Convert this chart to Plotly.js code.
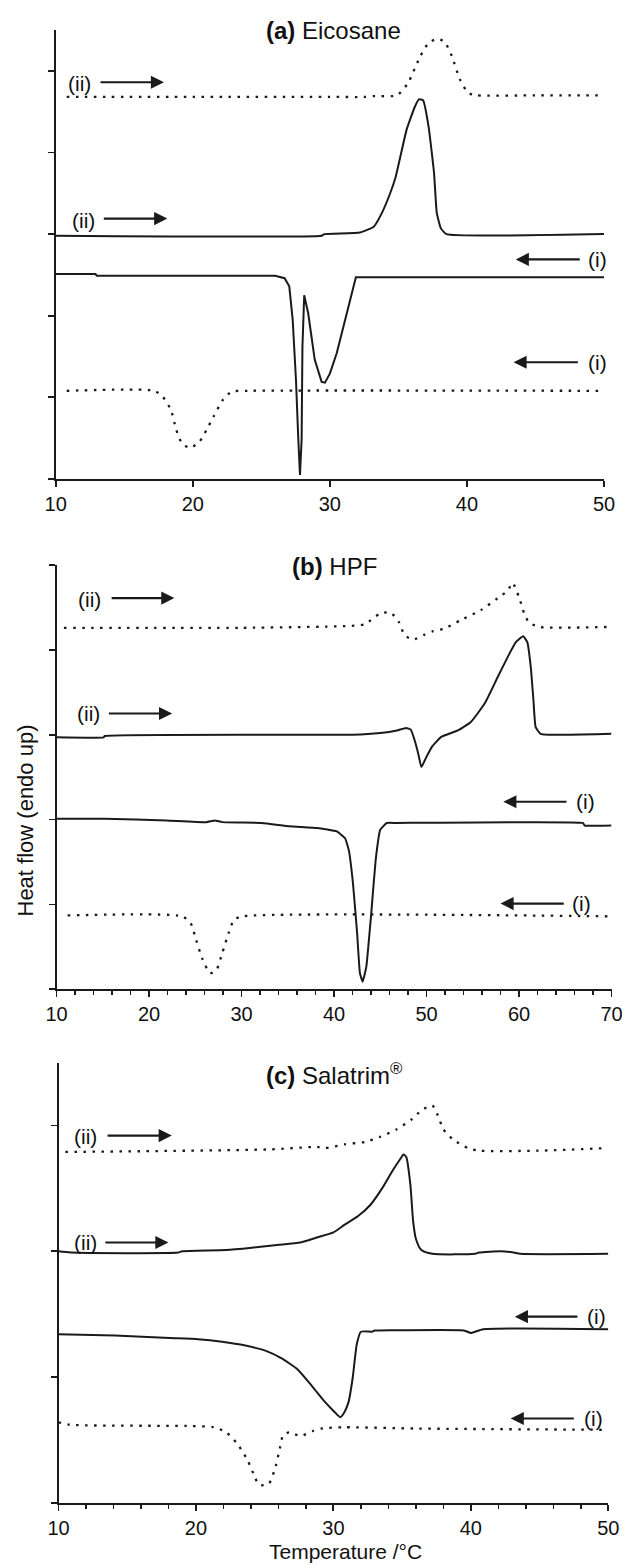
<!DOCTYPE html>
<html>
<head>
<meta charset="utf-8">
<script src="https://cdn.plot.ly/plotly-3.0.1.min.js"></script>
<style>
  html, body { margin: 0; padding: 0; background: #fff; }
  #chart { width: 622px; height: 1565px; }
</style>
</head>
<body>
<div id="chart"></div>
<script>
// ---- (a) Eicosane ----
const aTicks = [10, 20, 30, 40, 50];
const aHeatDotX = [10.8, 20, 30, 32.6, 33.2, 34.9, 35.7, 36.6, 37.2, 37.8, 38.35, 38.9, 39.5, 40.1, 40.7, 45, 50];
const aHeatDotY = [4.68, 4.68, 4.68, 4.68, 4.69, 4.70, 4.85, 5.18, 5.34, 5.39, 5.36, 5.18, 4.89, 4.73, 4.70, 4.70, 4.70];
const aHeatX = [10, 29.4, 29.6, 32.2, 33.2, 33.8, 34.4, 34.8, 35.6, 36.2, 36.5, 36.8, 37.2, 37.6, 37.8, 38.1, 38.5, 50];
const aHeatY = [2.98, 2.98, 3.0, 3.02, 3.09, 3.26, 3.50, 3.70, 4.28, 4.56, 4.65, 4.64, 4.32, 3.75, 3.26, 3.07, 3.0, 3.0];
const aCoolX = [10, 12.9, 13.0, 26.0, 26.7, 27.04, 27.29, 27.53, 27.7, 27.82, 27.94, 28.0, 28.13, 28.42, 28.9, 29.4, 29.64, 30.0, 30.5, 31.1, 31.6, 31.9, 50];
const aCoolY = [2.51, 2.51, 2.49, 2.49, 2.46, 2.36, 1.95, 1.21, 0.48, 0.05, 0.48, 1.62, 2.25, 2.03, 1.46, 1.19, 1.18, 1.29, 1.54, 1.95, 2.28, 2.47, 2.47];
const aCoolDotX = [10.8, 17.2, 17.8, 18.4, 18.8, 19.2, 19.8, 20.5, 21.0, 21.5, 22.2, 22.84, 24, 50];
const aCoolDotY = [1.08, 1.08, 1.01, 0.85, 0.60, 0.44, 0.38, 0.46, 0.60, 0.76, 0.97, 1.07, 1.08, 1.08];

// ---- (b) HPF ----
const bTicks = [10, 20, 30, 40, 50, 60, 70];
const bHeatDotX = [10.8, 30, 41.2, 43.3, 45.0, 46.1, 47.0, 47.6, 48.5, 49.8, 50.7, 51.9, 53.7, 55.9, 57.7, 58.8, 59.3, 60.0, 60.56, 61.1, 62.3, 69.7];
const bHeatDotY = [4.26, 4.26, 4.28, 4.30, 4.43, 4.44, 4.33, 4.18, 4.12, 4.18, 4.22, 4.25, 4.35, 4.47, 4.61, 4.70, 4.79, 4.62, 4.43, 4.32, 4.27, 4.27];
const bHeatX = [10, 15.1, 15.2, 35, 42, 45, 46.8, 47.8, 48.3, 48.7, 49.1, 49.45, 50.0, 50.6, 51.6, 53.4, 54.8, 56.3, 57.7, 58.8, 59.66, 60.45, 60.9, 61.27, 61.56, 61.8, 62.35, 70];
const bHeatY = [2.97, 2.97, 2.985, 3.0, 3.0, 3.02, 3.05, 3.08, 3.06, 2.94, 2.78, 2.62, 2.74, 2.86, 2.975, 3.05, 3.15, 3.37, 3.68, 3.92, 4.09, 4.16, 4.09, 3.80, 3.41, 3.09, 3.01, 3.01];
const bCoolX = [10, 15.2, 21.9, 26.2, 27.1, 27.9, 32.2, 35.2, 38.2, 40.3, 41.2, 41.6, 42.05, 42.5, 42.8, 43.1, 43.5, 44.0, 44.5, 45.0, 45.7, 46.8, 66.9, 67.1, 70];
const bCoolY = [2.01, 2.01, 1.99, 1.97, 1.99, 1.97, 1.96, 1.92, 1.90, 1.86, 1.78, 1.64, 1.25, 0.66, 0.19, 0.09, 0.27, 0.86, 1.52, 1.88, 1.96, 1.96, 1.96, 1.93, 1.93];
const bCoolDotX = [11.2, 23.6, 24.5, 25.1, 25.8, 26.6, 27.3, 27.9, 28.6, 29.2, 30.1, 70];
const bCoolDotY = [0.87, 0.86, 0.78, 0.58, 0.35, 0.19, 0.23, 0.42, 0.66, 0.82, 0.86, 0.86];

// ---- (c) Salatrim ----
const cTicks = [10, 20, 30, 40, 50];
const cHeatDotX = [10.5, 25.3, 28.8, 29.4, 30.8, 32.3, 33.4, 34.6, 35.7, 36.4, 37.2, 37.6, 38.0, 38.7, 39.8, 40.6, 44.9, 49.7];
const cHeatDotY = [2.79, 2.81, 2.83, 2.82, 2.85, 2.87, 2.91, 2.97, 3.05, 3.12, 3.16, 3.08, 2.97, 2.89, 2.82, 2.80, 2.80, 2.82];
const cHeatX = [10, 10.9, 18.7, 19.0, 22.2, 24.2, 25.9, 27.6, 28.8, 30.0, 30.8, 31.8, 32.7, 33.6, 34.3, 34.9, 35.1, 35.3, 35.6, 35.8, 36.0, 36.4, 37.2, 40.3, 40.6, 42.2, 43.1, 43.6, 50];
const cHeatY = [2.00, 1.99, 1.99, 2.00, 2.01, 2.03, 2.05, 2.07, 2.11, 2.15, 2.21, 2.28, 2.37, 2.51, 2.64, 2.74, 2.77, 2.75, 2.53, 2.24, 2.10, 2.01, 1.98, 1.98, 1.99, 2.00, 1.99, 1.98, 1.98];
const cCoolX = [10, 14.1, 18.1, 20.15, 21.9, 23.6, 25.05, 26.2, 27.4, 28.5, 29.4, 30.1, 30.5, 30.8, 31.1, 31.4, 31.7, 32.0, 32.8, 33.0, 33.4, 39.5, 40.0, 40.9, 50];
const cCoolY = [1.34, 1.33, 1.31, 1.30, 1.28, 1.25, 1.21, 1.15, 1.06, 0.92, 0.80, 0.72, 0.68, 0.72, 0.80, 0.99, 1.26, 1.36, 1.36, 1.37, 1.37, 1.37, 1.35, 1.38, 1.38];
const cCoolDotX = [10.0, 10.8, 19.6, 21.3, 22.2, 23.0, 23.75, 24.3, 24.6, 25.3, 25.8, 26.1, 26.35, 26.8, 27.6, 28.5, 29.1, 30.8, 36.0, 49.7];
const cCoolDotY = [0.64, 0.62, 0.61, 0.60, 0.56, 0.47, 0.34, 0.20, 0.14, 0.15, 0.29, 0.43, 0.54, 0.56, 0.53, 0.57, 0.59, 0.60, 0.59, 0.58];

// ---- drawing ----
const W = 622, H = 1565;
const INK = '#1a1a1a';
const FONT = 'Liberation Sans, Arial, Helvetica, sans-serif';

function solid(x, y, n, smooth) {
  const line = { color: INK, width: 2 };
  if (smooth) { line.shape = 'spline'; line.smoothing = smooth; }
  return { x, y, xaxis: 'x' + n, yaxis: 'y' + n, mode: 'lines', hoverinfo: 'skip',
           showlegend: false, line };
}
function dotted(x, y, n) {
  return { x, y, xaxis: 'x' + n, yaxis: 'y' + n, mode: 'lines', hoverinfo: 'skip',
           showlegend: false,
           line: { color: INK, width: 2.3, dash: '2.5px,6.5px', shape: 'spline', smoothing: 0.6 } };
}

function xAxis(left, right, range, ticks, withMinor, anchor) {
  const ax = {
    domain: [left / W, right / W], range, tickvals: ticks, ticktext: ticks.map(String),
    ticks: 'outside', ticklen: 6, tickwidth: 1.8, tickcolor: INK,
    showline: true, linecolor: INK, linewidth: 2, showgrid: false, zeroline: false,
    ticklabeloverflow: 'allow',
    anchor, tickfont: { family: FONT, size: 20, color: '#111' }, fixedrange: true
  };
  if (withMinor) {
    ax.minor = { dtick: 2, tick0: 10, ticks: 'outside', ticklen: 4, tickwidth: 1.5, tickcolor: INK, showgrid: false };
  }
  return ax;
}
function yAxis(top, bottom, range, ticks, anchor) {
  return {
    domain: [1 - bottom / H, 1 - top / H], range, tickvals: ticks,
    ticks: 'outside', ticklen: 6, tickwidth: 1.8, tickcolor: INK, showticklabels: false,
    showline: true, linecolor: INK, linewidth: 2, showgrid: false, zeroline: false,
    anchor, fixedrange: true
  };
}

const data = [
  dotted(aHeatDotX, aHeatDotY, ''), solid(aHeatX, aHeatY, '', 0.4),
  solid(aCoolX, aCoolY, ''), dotted(aCoolDotX, aCoolDotY, ''),
  dotted(bHeatDotX, bHeatDotY, '2'), solid(bHeatX, bHeatY, '2', 0.4),
  solid(bCoolX, bCoolY, '2', 0.3), dotted(bCoolDotX, bCoolDotY, '2'),
  dotted(cHeatDotX, cHeatDotY, '3'), solid(cHeatX, cHeatY, '3', 0.6),
  solid(cCoolX, cCoolY, '3', 0.5), dotted(cCoolDotX, cCoolDotY, '3')
];

// direction labels and their arrows
function label(text, x, y, n) {
  return { text, x, y, xref: 'x' + n, yref: 'y' + n, showarrow: false,
           xanchor: 'center', yanchor: 'middle', font: { family: FONT, size: 21, color: '#111' } };
}
function arrow(tail, head, y, n) {
  return { text: '', x: head, y, ax: tail, ay: y, xref: 'x' + n, yref: 'y' + n,
           axref: 'x' + n, ayref: 'y' + n, showarrow: true, arrowhead: 2, arrowsize: 1.25,
           arrowwidth: 2.1, arrowcolor: INK, standoff: 0, startstandoff: 0 };
}
// panel titles sit in page coordinates (pixels from the top-left corner)
function title(html, cx, cy) {
  return { text: html, x: cx / W, y: 1 - cy / H, xref: 'paper', yref: 'paper', showarrow: false,
           xanchor: 'center', yanchor: 'middle', font: { family: FONT, size: 24, color: '#111' } };
}

const annotations = [
  title('<b>(a)</b> Eicosane', 333, 30),
  label('(ii)', 11.77, 4.84, ''), arrow(13.16, 17.9, 4.86, ''),
  label('(ii)', 12.0, 3.17, ''), arrow(13.4, 18.14, 3.19, ''),
  label('(i)', 49.5, 2.69, ''), arrow(48.34, 43.56, 2.69, ''),
  label('(i)', 49.5, 1.43, ''), arrow(48.2, 43.4, 1.43, ''),

  title('<b>(b)</b> HPF', 334, 566),
  label('(ii)', 13.6, 4.59, '2'), arrow(15.8, 22.74, 4.61, '2'),
  label('(ii)', 13.46, 3.25, '2'), arrow(15.5, 22.5, 3.25, '2'),
  label('(i)', 67.15, 2.21, '2'), arrow(65.3, 58.3, 2.21, '2'),
  label('(i)', 66.8, 1.01, '2'), arrow(65.0, 58.0, 1.01, '2'),

  title('<b>(c)</b> Salatrim<sup>®</sup>', 335, 1074),
  label('(ii)', 12.0, 2.91, '3'), arrow(13.46, 18.24, 2.92, '3'),
  label('(ii)', 11.94, 2.07, '3'), arrow(13.3, 18.0, 2.07, '3'),
  label('(i)', 49.15, 1.48, '3'), arrow(47.86, 43.2, 1.48, '3'),
  label('(i)', 48.9, 0.67, '3'), arrow(47.6, 42.9, 0.67, '3'),

  { text: 'Heat flow (endo up)', x: 24.5 / W, y: 1 - 821 / H, xref: 'paper', yref: 'paper',
    showarrow: false, textangle: -90, xanchor: 'center', yanchor: 'middle',
    font: { family: FONT, size: 22, color: '#111' } },
  { text: 'Temperature /°C', x: 345.6 / W, y: 1 - 1551 / H, xref: 'paper', yref: 'paper',
    showarrow: false, xanchor: 'center', yanchor: 'middle',
    font: { family: FONT, size: 21, color: '#111' } }
];

const layout = {
  width: W, height: H, margin: { l: 0, r: 0, t: 0, b: 0 },
  paper_bgcolor: '#fff', plot_bgcolor: '#fff', showlegend: false,
  font: { family: FONT, color: '#111' },
  xaxis:  xAxis(55.7, 604, [10, 50], aTicks, false, 'y'),
  yaxis:  yAxis(30, 479, [0, 5.5], [0, 1, 2, 3, 4, 5], 'x'),
  xaxis2: xAxis(56.5, 611.5, [10, 70], bTicks, true, 'y2'),
  yaxis2: yAxis(565, 989.3, [0, 5], [0, 1, 2, 3, 4, 5], 'x2'),
  xaxis3: xAxis(58.5, 608.3, [10, 50], cTicks, true, 'y3'),
  yaxis3: yAxis(1062.7, 1502.7, [0, 3.5], [0, 1, 2, 3], 'x3'),
  annotations
};

Plotly.newPlot('chart', data, layout, { staticPlot: true, displayModeBar: false });
</script>
</body>
</html>
